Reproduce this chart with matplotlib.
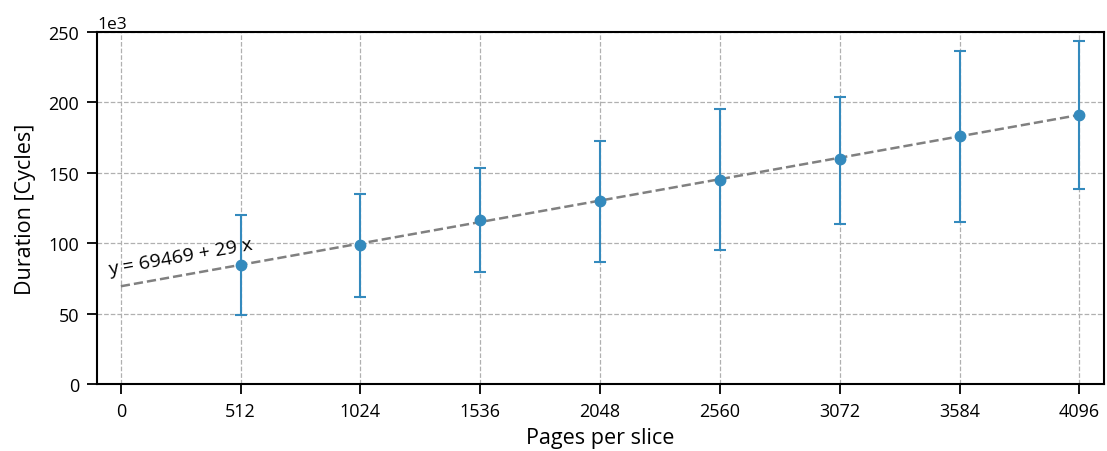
import numpy as np
import matplotlib
matplotlib.use("Agg")
import matplotlib.pyplot as plt

# pages per slice and measured durations (cycles)
pages = [512, 1024, 1536, 2048, 2560, 3072, 3584, 4096]
dur_mean = [84500, 98700, 116500, 130000, 145100, 159900, 176000, 191000]
dur_low = [49000, 61800, 79500, 86800, 95500, 113900, 115300, 138300]
dur_high = [120000, 135000, 153500, 172700, 195100, 204000, 236700, 243800]
xticks = [0, 512, 1024, 1536, 2048, 2560, 3072, 3584, 4096]
fit_a = 69469
fit_b = 29.7  # label shows the rounded slope
fit_label = "y = 69469 + 29 x"

plt.rcParams['font.family'] = ['Open Sans', 'DejaVu Sans']
plt.rcParams['font.size'] = 13

fig, ax = plt.subplots(figsize=(11.07, 4.52), dpi=100)

mean = np.array(dur_mean)
err = [mean - np.array(dur_low), np.array(dur_high) - mean]
ax.errorbar(pages, mean, yerr=err, fmt='o', color='#348ABD', ms=7.5,
            elinewidth=1.5, capsize=4, capthick=1.5, zorder=3)

xs = np.array([0, 4096])
ax.plot(xs, fit_a + fit_b * xs, '--', color='gray', lw=1.8, zorder=2)
ax.text(-45, 75000, fit_label, rotation=10, fontsize=14,
        rotation_mode='anchor', ha='left', va='bottom')

ax.set_xlim(-100, 4200)
ax.set_ylim(0, 250000)
ax.set_xticks(xticks)
ax.set_yticks(np.arange(0, 250001, 50000))
ax.ticklabel_format(axis='y', style='sci', scilimits=(3, 3))
ax.yaxis.get_offset_text().set_fontsize(12.5)
ax.grid(True, ls='--', color='#b0b0b0', lw=0.9)
ax.set_axisbelow(True)
for s in ax.spines.values():
    s.set_linewidth(1.5)
ax.tick_params(direction='out', length=7, width=1.3, pad=6)

ax.set_xlabel('Pages per slice', fontsize=15.5, labelpad=5)
ax.set_ylabel('Duration [Cycles]', fontsize=15.5, labelpad=9)

fig.subplots_adjust(left=0.088, right=0.997, top=0.927, bottom=0.148)
fig.savefig('out.png', dpi=100)
